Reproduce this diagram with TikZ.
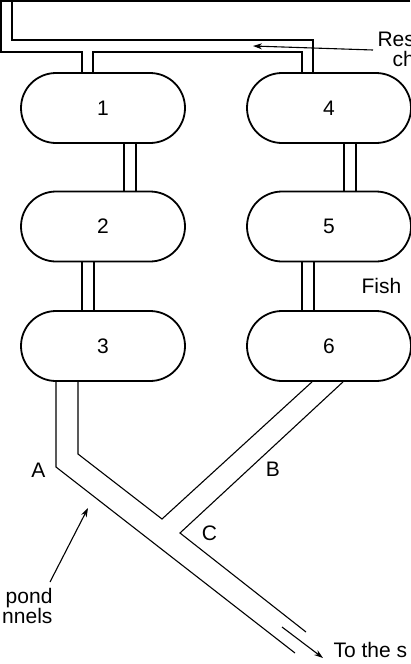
\documentclass[tikz,border=0pt]{standalone}
\usepackage{fontspec}
\setmainfont{Liberation Sans}
\usetikzlibrary{arrows.meta,calc}

\begin{document}
\begin{tikzpicture}[x=1pt, y=-1pt, >={Stealth[length=9pt,width=6pt]}, font=\fontsize{21}{25}\selectfont, line width=1.1pt,
  pond/.style={draw,line width=1.8pt,rounded corners=35pt,minimum width=164pt,minimum height=70pt,inner sep=0pt},
  lbl/.style={inner sep=0pt,anchor=base west}, lblr/.style={inner sep=0pt,anchor=base east}]
  \useasboundingbox (0,0) rectangle (410,664);
  \foreach \i/\y in {1/108,2/226.5,3/346}{
    \pgfmathtruncatemacro\j{\i+3}
    \node[pond] (p\i) at (103,\y) {\i};
    \node[pond] (p\j) at (329,\y) {\j};}
  % links between ponds
  \foreach \a/\b/\x in {p1/p2/124,p2/p3/82,p4/p5/344,p5/p6/302}
    \draw (\x,0 |- \a.south) -- (\x,0 |- \b.north) (\x+12,0 |- \a.south) -- (\x+12,0 |- \b.north);
  % supply at the top
  \draw (410,1) -| (1,52) -| (82,0 |- p1.north);
  \draw (93,0 |- p1.north) |- (302,52) -- (302,0 |- p4.north);
  \draw (12,0) |- (313,40) -- (313,0 |- p4.north);
  \node[lbl] (res) at (377,46) {Res}; \node[lbl] (ch) at (392,66.5) {ch};
  \coordinate (rt) at (373,50); \coordinate (rh) at (253,46);
  \draw[->] (rt) -- (rh);
  \node[lbl] (fish) at (361,293) {Fish};
  % drains
  \draw (56,0 |- p3.south) -- (56,467) -- (295,653);
  \draw (78,0 |- p3.south) -- (78,454) -- (162,519) -- (312,0 |- p6.south);
  \draw (343,0 |- p6.south) -- (180,533) -- (306,632);
  \node[inner sep=0pt,anchor=base] (a) at (38.5,477) {A};
  \node[inner sep=0pt,anchor=base] (b) at (273,476) {B};
  \node[inner sep=0pt,anchor=base] (c) at (209.5,540) {C};
  \coordinate (ft) at (282,627); \coordinate (fh) at (323,658);
  \draw[->] (ft) -- (fh);
  \node[lbl] (sea) at (333,657) {To the s};
  \node[lblr] (pond) at (53,603) {pond}; \node[lblr] (nnels) at (53,623) {nnels};
  \coordinate (pt) at (50,582); \coordinate (ph) at (88,508);
  \draw[->] (pt) -- (ph);
\end{tikzpicture}
\end{document}
